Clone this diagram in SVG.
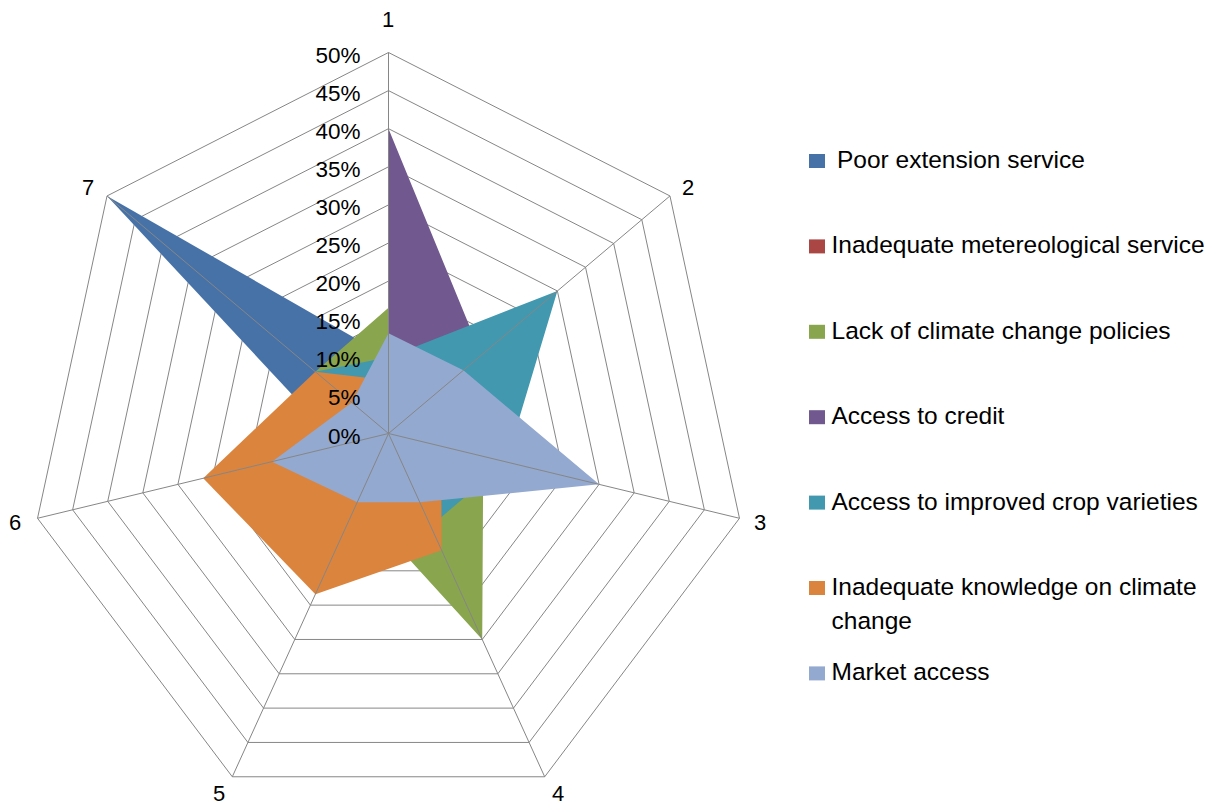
<svg xmlns="http://www.w3.org/2000/svg" width="1215" height="805" viewBox="0 0 1215 805">
<style>
.grid{fill:none;stroke:#868686;stroke-width:1}
.spoke{stroke:#868686;stroke-width:1}
.lbl{font-family:"Liberation Sans",Arial,sans-serif;font-size:22px;fill:#000}
.val{font-family:"Liberation Sans",Arial,sans-serif;font-size:22.5px;fill:#000;text-anchor:end}
.leg{font-family:"Liberation Sans",Arial,sans-serif;font-size:24.5px;fill:#000}
</style>
<rect width="1215" height="805" fill="#ffffff"/>
<g id="chart" transform="translate(388.5 433.5)">
<g id="grid">
<polygon class="grid" points="0,-38.1 28.15,-23.76 35.1,8.48 15.62,34.33 -15.62,34.33 -35.1,8.48 -28.15,-23.76"/>
<polygon class="grid" points="0,-76.2 56.29,-47.51 70.19,16.96 31.24,68.65 -31.24,68.65 -70.19,16.96 -56.29,-47.51"/>
<polygon class="grid" points="0,-114.3 84.44,-71.27 105.29,25.43 46.86,102.98 -46.86,102.98 -105.29,25.43 -84.44,-71.27"/>
<polygon class="grid" points="0,-152.4 112.58,-95.02 140.39,33.91 62.48,137.31 -62.48,137.31 -140.39,33.91 -112.58,-95.02"/>
<polygon class="grid" points="0,-190.5 140.73,-118.78 175.49,42.39 78.1,171.64 -78.1,171.64 -175.49,42.39 -140.73,-118.78"/>
<polygon class="grid" points="0,-228.6 168.88,-142.53 210.58,50.87 93.72,205.96 -93.72,205.96 -210.58,50.87 -168.88,-142.53"/>
<polygon class="grid" points="0,-266.7 197.02,-166.29 245.68,59.35 109.34,240.29 -109.34,240.29 -245.68,59.35 -197.02,-166.29"/>
<polygon class="grid" points="0,-304.8 225.17,-190.04 280.78,67.82 124.96,274.62 -124.96,274.62 -280.78,67.82 -225.17,-190.04"/>
<polygon class="grid" points="0,-342.9 253.31,-213.8 315.87,76.3 140.58,308.94 -140.58,308.94 -315.87,76.3 -253.31,-213.8"/>
<polygon class="grid" points="0,-381 281.46,-237.55 350.97,84.78 156.2,343.27 -156.2,343.27 -350.97,84.78 -281.46,-237.55"/>
</g>
<g id="series-poor-extension"><polygon fill="#4672A8" points="0,-76.2 28.15,-23.76 35.1,8.48 15.62,34.33 -15.62,34.33 -49.14,11.87 -281.46,-237.55"/></g>
<g id="series-lack-policies"><polygon fill="#89A54E" points="0,-125.73 45.03,-38.01 94.76,22.89 93.72,205.96 -31.24,68.65 -70.19,16.96 -73.18,-61.76"/></g>
<g id="series-credit"><polygon fill="#71588F" points="0,-304.8 92.88,-78.39 35.1,8.48 9.37,20.6 -9.37,20.6 -21.06,5.09 0,0"/></g>
<g id="series-crop-varieties"><polygon fill="#4198AF" points="0,-76.2 168.88,-142.53 117.57,28.4 42.17,92.68 -31.24,68.65 -70.19,16.96 -73.18,-61.76"/></g>
<g id="series-knowledge"><polygon fill="#DB843D" points="0,-53.34 28.15,-23.76 52.65,12.72 53.11,116.71 -73.1,160.65 -185.31,44.76 -73.18,-61.76"/></g>
<g id="series-market"><polygon fill="#93A9CF" points="0,-100.2 74.87,-63.19 210.58,50.87 31.24,68.65 -31.24,68.65 -116.52,28.15 -36.59,-30.88"/></g>
<g id="spokes">
<line class="spoke" x1="0" y1="0" x2="0" y2="-381"/>
<line class="spoke" x1="0" y1="0" x2="281.46" y2="-237.55"/>
<line class="spoke" x1="0" y1="0" x2="350.97" y2="84.78"/>
<line class="spoke" x1="0" y1="0" x2="156.2" y2="343.27"/>
<line class="spoke" x1="0" y1="0" x2="-156.2" y2="343.27"/>
<line class="spoke" x1="0" y1="0" x2="-350.97" y2="84.78"/>
<line class="spoke" x1="0" y1="0" x2="-281.46" y2="-237.55"/>
</g>
</g>
<g id="value-labels">
<text class="val" x="360.5" y="443.5">0%</text>
<text class="val" x="360.5" y="405.4">5%</text>
<text class="val" x="360.5" y="367.3">10%</text>
<text class="val" x="360.5" y="329.2">15%</text>
<text class="val" x="360.5" y="291.1">20%</text>
<text class="val" x="360.5" y="253">25%</text>
<text class="val" x="360.5" y="214.9">30%</text>
<text class="val" x="360.5" y="176.8">35%</text>
<text class="val" x="360.5" y="138.7">40%</text>
<text class="val" x="360.5" y="100.6">45%</text>
<text class="val" x="360.5" y="62.5">50%</text>
</g>
<g id="axis-labels">
<text class="lbl" x="388" y="27" text-anchor="middle">1</text>
<text class="lbl" x="682" y="195">2</text>
<text class="lbl" x="754" y="530">3</text>
<text class="lbl" x="552" y="801">4</text>
<text class="lbl" x="213" y="801">5</text>
<text class="lbl" x="9" y="530">6</text>
<text class="lbl" x="82" y="195">7</text>
</g>
<g id="legend">
<g id="legend-1"><rect x="809" y="154" width="16" height="14" fill="#4672A8"/><text class="leg" x="837" y="168">Poor extension service</text></g>
<g id="legend-2"><rect x="809" y="239.4" width="16" height="14" fill="#AA4643"/><text class="leg" x="831.5" y="253.4">Inadequate metereological service</text></g>
<g id="legend-3"><rect x="809" y="324.8" width="16" height="14" fill="#89A54E"/><text class="leg" x="831.5" y="338.8">Lack of climate change policies</text></g>
<g id="legend-4"><rect x="809" y="410.2" width="16" height="14" fill="#71588F"/><text class="leg" x="831.5" y="424.2">Access to credit</text></g>
<g id="legend-5"><rect x="809" y="495.6" width="16" height="14" fill="#4198AF"/><text class="leg" x="831.5" y="509.6">Access to improved crop varieties</text></g>
<g id="legend-6"><rect x="809" y="581" width="16" height="14" fill="#DB843D"/><text class="leg" x="831.5" y="595">Inadequate knowledge on climate</text><text class="leg" x="831.5" y="628.6">change</text></g>
<g id="legend-7"><rect x="809" y="666.4" width="16" height="14" fill="#93A9CF"/><text class="leg" x="831.5" y="680.4">Market access</text></g>
</g>
</svg>
